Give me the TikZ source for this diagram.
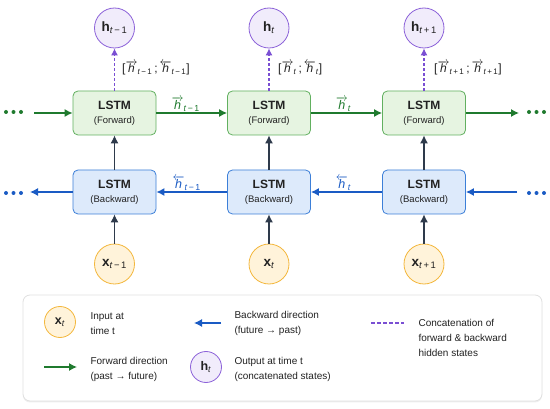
\documentclass[tikz,border=0pt]{standalone}
\usepackage{fontspec}
\setmainfont{Liberation Sans}
\usetikzlibrary{arrows.meta,shadows}
\definecolor{fwdfill}{HTML}{E6F4E1}
\definecolor{fwdline}{HTML}{62B060}
\definecolor{fwdarrow}{HTML}{1F7A2E}
\definecolor{bwdfill}{HTML}{DDEAFB}
\definecolor{bwdline}{HTML}{3C7FD8}
\definecolor{bwdarrow}{HTML}{1A5BC4}
\definecolor{hfill}{HTML}{F1ECFB}
\definecolor{hline}{HTML}{8C62D9}
\definecolor{xfill}{HTML}{FFF3DA}
\definecolor{xline}{HTML}{F3B73C}
\definecolor{vertc}{HTML}{2E3A4B}
\definecolor{dashc}{HTML}{7A4FD3}
\definecolor{txt}{HTML}{222222}
\newcommand{\hv}{\mbox{\textit{h}}}
\newcommand{\fw}[1]{$\overrightarrow{\hv}$\textsubscript{#1}}
\newcommand{\bw}[1]{$\overleftarrow{\hv}$\textsubscript{#1}}
\newcommand{\tm}{\textit{t}\,−\,1}
\newcommand{\tp}{\textit{t}\,+\,1}
\tikzset{
  lstmbox/.style={rounded corners=5pt, minimum width=83pt, minimum height=44pt, line width=0.8pt, align=center, text=txt},
  fwdbox/.style={lstmbox, draw=fwdline, fill=fwdfill},
  bwdbox/.style={lstmbox, draw=bwdline, fill=bwdfill},
  hcirc/.style={circle, draw=hline, fill=hfill, line width=0.8pt, minimum size=40pt, inner sep=0pt, text=txt, font=\fontsize{13.5}{15}\selectfont},
  xcirc/.style={circle, draw=xline, fill=xfill, line width=0.8pt, minimum size=40pt, inner sep=0pt, text=txt, font=\fontsize{13.5}{15}\selectfont},
  smallh/.style={hcirc, minimum size=31pt, font=\fontsize{12.5}{14}\selectfont},
  smallx/.style={xcirc, minimum size=31pt, font=\fontsize{12.5}{14}\selectfont},
  tip/.style={-{Latex[length=8pt,width=8pt]}},
  fwdarr/.style={tip, draw=fwdarrow, line width=1.3pt},
  bwdarr/.style={tip, draw=bwdarrow, line width=1.3pt},
  vertarr/.style={tip, draw=vertc, line width=1.1pt},
  concarr/.style={-{Latex[length=7pt,width=7pt]}, draw=dashc, line width=1.1pt, dash pattern=on 3pt off 2pt},
  dotc/.style={circle, inner sep=0pt, minimum size=4pt},
  concl/.style={anchor=west, text=txt, inner sep=1pt, font=\fontsize{12}{14}\selectfont},
  arrl/.style={font=\fontsize{12.5}{14}\selectfont, inner sep=1pt},
  legtext/.style={anchor=west, align=left, text=txt, font=\fontsize{10}{15}\selectfont},
}
\begin{document}
\begin{tikzpicture}[x=1pt,y=-1pt]
\useasboundingbox[fill=white] (0,0) rectangle (550,409);
% LSTM boxes
\foreach \i/\xx in {1/114.5,2/269,3/424}{
  \node[fwdbox] (f\i) at (\xx,113) {{\fontsize{12}{14}\selectfont\bfseries LSTM}\\[2pt]{\fontsize{9.5}{11}\selectfont (Forward)}};
  \node[bwdbox] (b\i) at (\xx,192) {{\fontsize{12}{14}\selectfont\bfseries LSTM}\\[2pt]{\fontsize{9.5}{11}\selectfont (Backward)}};
}
% output circles
\node[hcirc] (h1) at (114.5,28) {\textbf{h}\textsubscript{\tm}};
\node[hcirc] (h2) at (269,28) {\textbf{h}\textsubscript{\textit{t}}};
\node[hcirc] (h3) at (424,28) {\textbf{h}\textsubscript{\tp}};
% input circles
\node[xcirc] (x1) at (114.5,264) {\textbf{x}\textsubscript{\tm}};
\node[xcirc] (x2) at (269,264) {\textbf{x}\textsubscript{\textit{t}}};
\node[xcirc] (x3) at (424,264) {\textbf{x}\textsubscript{\tp}};
% vertical arrows
\foreach \i in {1,2,3}{
  \draw[vertarr] (x\i) -- (b\i);
  \draw[vertarr] (b\i) -- (f\i);
  \draw[concarr] (f\i) -- (h\i);
}
% concat labels
\node[concl] (c1) at (121,68) {[\fw{\tm}\,;\,\bw{\tm}]};
\node[concl] (c2) at (277,68) {[\fw{\textit{t}}\,;\,\bw{\textit{t}}]};
\node[concl] (c3) at (433,68) {[\fw{\tp}\,;\,\fw{\tp}]};
% forward chain
\coordinate (fl) at (34,113);
\coordinate (fr) at (519,113);
\draw[fwdarr] (fl) -- (f1);
\draw[fwdarr] (f1) -- node[arrl, above, xshift=-6pt, text=fwdarrow] (lf1) {\fw{\tm}} (f2);
\draw[fwdarr] (f2) -- node[arrl, above, xshift=-3pt, text=fwdarrow] (lf2) {\fw{\textit{t}}} (f3);
\draw[fwdarr] (f3) -- (fr);
% backward chain
\coordinate (bl) at (30,192);
\coordinate (br) at (517,192);
\draw[bwdarr] (b1) -- (bl);
\draw[bwdarr] (b2) -- node[arrl, above, xshift=-5pt, text=bwdarrow] (lb1) {\bw{\tm}} (b1);
\draw[bwdarr] (b3) -- node[arrl, above, xshift=-3pt, text=bwdarrow] (lb2) {\bw{\textit{t}}} (b2);
\draw[bwdarr] (br) -- (b3);
% dots
\foreach \k/\xx in {1/6,2/13.5,3/21}{
  \node[dotc, fill=fwdarrow] (dfl\k) at (\xx,112) {};
  \node[dotc, fill=bwdarrow] (dbl\k) at (\xx,193) {};
}
\foreach \k/\xx in {1/529,2/536.5,3/544}{
  \node[dotc, fill=fwdarrow] (dfr\k) at (\xx,112) {};
  \node[dotc, fill=bwdarrow] (dbr\k) at (\xx,193) {};
}
% legend
\node[draw=black!12, fill=white, rounded corners=7pt, minimum width=519pt, minimum height=106pt, line width=0.8pt,
      drop shadow={shadow xshift=0pt, shadow yshift=-1.5pt, opacity=0.12}] (leg) at (282.5,348) {};
\node[smallx] (lx) at (60,322) {\textbf{x}\textsubscript{\textit{t}}};
\node[legtext] (lxt) at (87,323.5) {Input at\\time t};
\coordinate (lb1s) at (221,323);
\coordinate (lb1e) at (194,323);
\draw[bwdarr] (lb1s) -- (lb1e);
\node[legtext] (lbt) at (231,323.5) {Backward direction\\(future → past)};
\coordinate (ld1) at (371,323);
\coordinate (ld2) at (404,323);
\draw[draw=dashc, line width=1.1pt, dash pattern=on 3.5pt off 2.5pt] (ld1) -- (ld2);
\node[legtext] (ldt) at (415,338) {Concatenation of\\forward \& backward\\hidden states};
\coordinate (lf1s) at (44,367);
\coordinate (lf1e) at (77,367);
\draw[fwdarr] (lf1s) -- (lf1e);
\node[legtext] (lft) at (87,369.5) {Forward direction\\(past → future)};
\node[smallh] (lh) at (206,367) {\textbf{h}\textsubscript{\textit{t}}};
\node[legtext] (lht) at (231,369.5) {Output at time t\\(concatenated states)};
\end{tikzpicture}
\end{document}
